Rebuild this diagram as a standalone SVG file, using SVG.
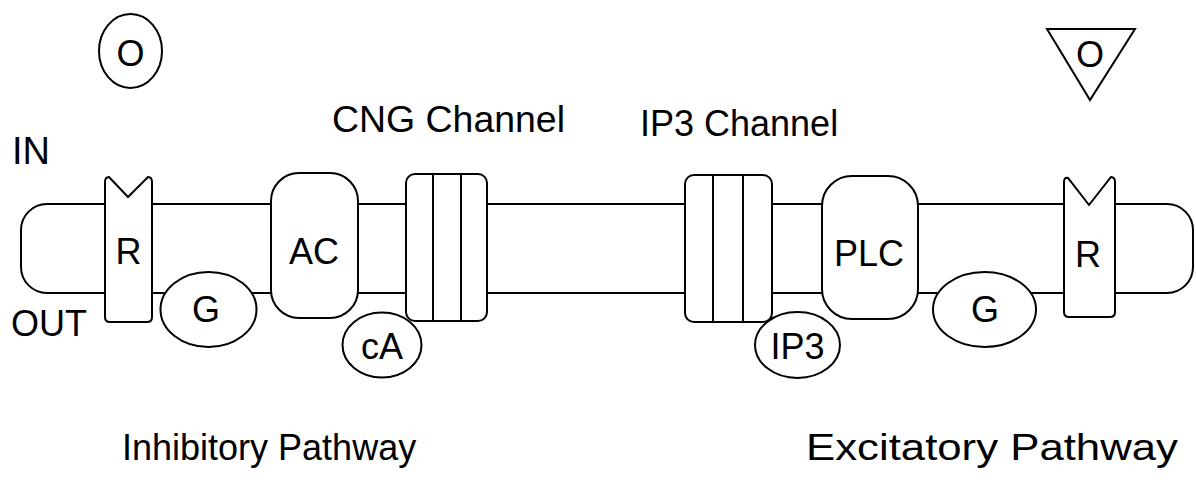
<svg xmlns="http://www.w3.org/2000/svg" width="1196" height="484" viewBox="0 0 1196 484">
<style>
.s{fill:#fff;stroke:#000;stroke-width:2}
.l{fill:none;stroke:#000;stroke-width:2}
text{font-family:"Liberation Sans",Arial,sans-serif;font-size:36px;fill:#000}
.m{text-anchor:middle}
</style>
<rect width="1196" height="484" fill="#fff"/>
<g id="connectors">
<rect id="membrane" class="s" x="21" y="204" width="1172" height="89" rx="26"/>
</g>
<g id="ligand-left"><ellipse class="s" cx="130.5" cy="51" rx="31.5" ry="37"/><text class="m" x="130.5" y="66">O</text></g>
<g id="ligand-right"><polygon class="s" points="1047,29 1135,29 1090,100"/><text class="m" x="1090" y="67">O</text></g>
<g id="label-in"><text x="12" y="164" style="font-size:38px">IN</text></g>
<g id="label-out"><text x="11" y="336">OUT</text></g>
<g id="label-cng"><text x="332" y="132" textLength="233" lengthAdjust="spacingAndGlyphs">CNG Channel</text></g>
<g id="label-ip3ch"><text x="640" y="136">IP3 Channel</text></g>
<g id="R-left"><path class="s" d="M105,182 Q105,177 109,177 L128,197 L148,177 Q152,177 152,182 L152,317 Q152,322 147,322 L110,322 Q105,322 105,317 Z"/><text class="m" x="128.5" y="264">R</text></g>
<g id="G-left"><ellipse class="s" cx="208.5" cy="309.5" rx="48" ry="37.5"/><text class="m" x="206" y="322">G</text></g>
<g id="AC"><rect class="s" x="271" y="173" width="87" height="145" rx="28"/><text class="m" x="314" y="264">AC</text></g>
<g id="CNG"><rect class="s" x="406" y="174" width="81" height="147" rx="9"/><line class="l" x1="433" y1="174" x2="433" y2="321"/><line class="l" x1="461" y1="174" x2="461" y2="321"/></g>
<g id="cA"><ellipse class="s" cx="382" cy="345" rx="39.5" ry="32.5"/><text class="m" x="382" y="359">cA</text></g>
<g id="IP3-channel"><rect class="s" x="685" y="175" width="87" height="147" rx="9"/><line class="l" x1="713" y1="175" x2="713" y2="322"/><line class="l" x1="743" y1="175" x2="743" y2="322"/></g>
<g id="IP3"><ellipse class="s" cx="797.5" cy="345" rx="42.5" ry="33"/><text class="m" x="797.5" y="359">IP3</text></g>
<g id="PLC"><rect class="s" x="822" y="176" width="96" height="143" rx="30"/><text class="m" x="869" y="266">PLC</text></g>
<g id="G-right"><ellipse class="s" cx="984.5" cy="309.5" rx="51.5" ry="37.5"/><text class="m" x="985" y="322">G</text></g>
<g id="R-right"><path class="s" d="M1064,182 Q1064,177 1068,178 L1089,205 L1111,177 Q1115,177 1115,182 L1115,312 Q1115,317 1110,317 L1069,317 Q1064,317 1064,312 Z"/><text class="m" x="1088" y="267">R</text></g>
<g id="label-inhibitory"><text x="122" y="460">Inhibitory Pathway</text></g>
<g id="label-excitatory"><text x="806" y="460" textLength="372" lengthAdjust="spacingAndGlyphs">Excitatory Pathway</text></g>
</svg>
